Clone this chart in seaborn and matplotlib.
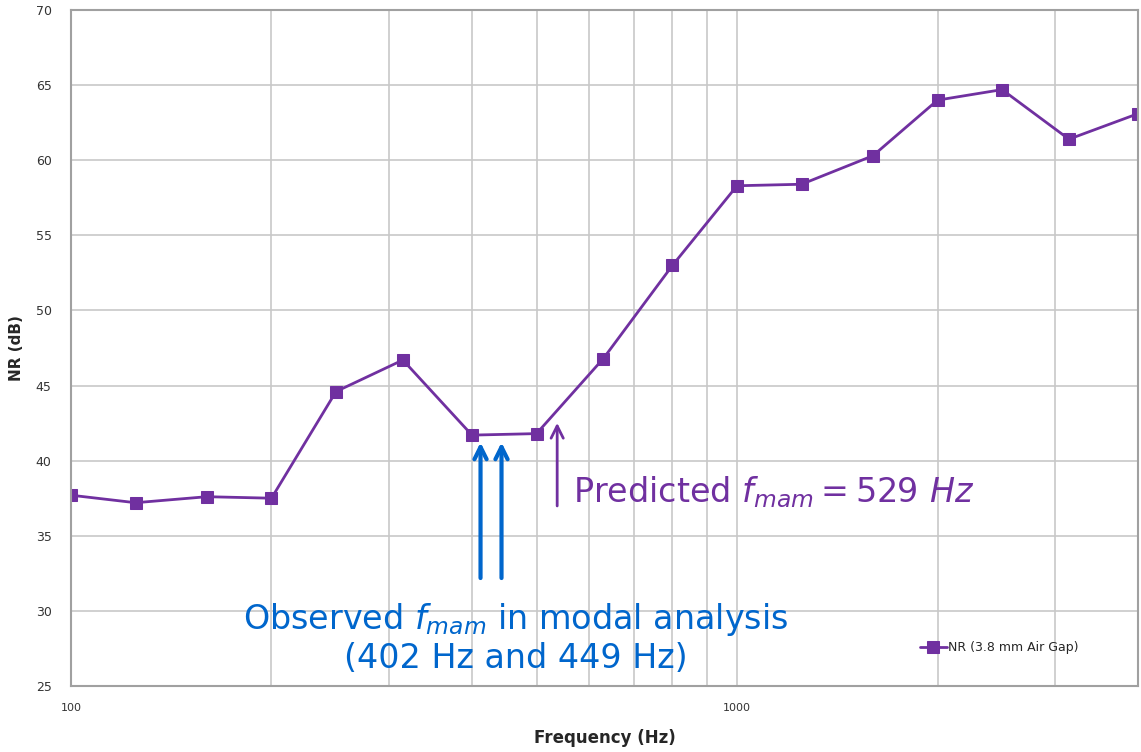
import seaborn as sns
import pandas as pd
import matplotlib.pyplot as plt
from matplotlib.ticker import FixedLocator, NullFormatter

# third-octave band centres and measured noise reduction
freqs = [100, 125, 160, 200, 250, 315, 400, 500, 630, 800, 1000,
         1250, 1600, 2000, 2500, 3150, 4000]
nr_vals = [37.7, 37.2, 37.6, 37.5, 44.6, 46.7, 41.7, 41.8, 46.8, 53.0, 58.3,
           58.4, 60.3, 64.0, 64.7, 61.4, 63.1]
series_name = "NR (3.8 mm Air Gap)"

observed_freqs = [412, 443]
predicted_freq = 537

purple = "#7030A0"
blue = "#0066CC"

df = pd.DataFrame({"Frequency (Hz)": freqs, "NR (dB)": nr_vals})

sns.set_style("white")
fig = plt.figure(figsize=(11.41, 7.52), dpi=100)
ax = fig.add_axes([0.0622, 0.0878, 0.9352, 0.8989])

sns.lineplot(data=df, x="Frequency (Hz)", y="NR (dB)", ax=ax, color=purple,
             marker="s", markersize=8, markeredgecolor=purple, linewidth=2,
             label=series_name)

ax.set_xscale("log")
ax.set_xlim(100, 4000)
ax.set_ylim(25, 70)
ax.set_yticks(range(25, 71, 5))
ax.xaxis.set_major_locator(FixedLocator([100, 1000]))
ax.set_xticklabels(["100", "1000"])
ax.xaxis.set_minor_locator(FixedLocator([200, 300, 400, 500, 600, 700, 800, 900,
                                         2000, 3000, 4000]))
ax.xaxis.set_minor_formatter(NullFormatter())
ax.grid(True, which="both", color="#c8c8c8", linewidth=1.2)
ax.tick_params(axis="both", which="both", length=0)
ax.tick_params(axis="x", labelsize=8, pad=12)
ax.tick_params(axis="y", labelsize=9, pad=14)
for lbl in ax.get_yticklabels() + ax.get_xticklabels():
    lbl.set_color("#333333")
for s in ax.spines.values():
    s.set_color("#a0a0a0")
    s.set_linewidth(1.5)

ax.set_xlabel("Frequency (Hz)", fontsize=12, fontweight="bold", labelpad=12)
ax.set_ylabel("NR (dB)", fontsize=11, fontweight="bold", labelpad=8)

# arrows for observed and predicted frequencies
for f in observed_freqs:
    ax.annotate("", xy=(f, 41.4), xytext=(f, 32.0),
                arrowprops=dict(arrowstyle="->", color=blue, lw=3,
                                mutation_scale=22))
ax.annotate("", xy=(predicted_freq, 42.7), xytext=(predicted_freq, 36.8),
            arrowprops=dict(arrowstyle="->", color=purple, lw=2,
                            mutation_scale=22))

ax.text(568, 37.9, r"Predicted $f_{mam} = 529\ Hz$", color=purple, fontsize=24,
        ha="left", va="center")
ax.text(465, 28.2, "Observed $f_{mam}$ in modal analysis\n(402 Hz and 449 Hz)",
        color=blue, fontsize=24, ha="center", va="center", linespacing=1.15)

leg = ax.legend(loc="lower right", bbox_to_anchor=(0.955, 0.03), frameon=False,
                fontsize=9, handlelength=2.2, handletextpad=0.1)

fig.savefig("out.png", dpi=100)
